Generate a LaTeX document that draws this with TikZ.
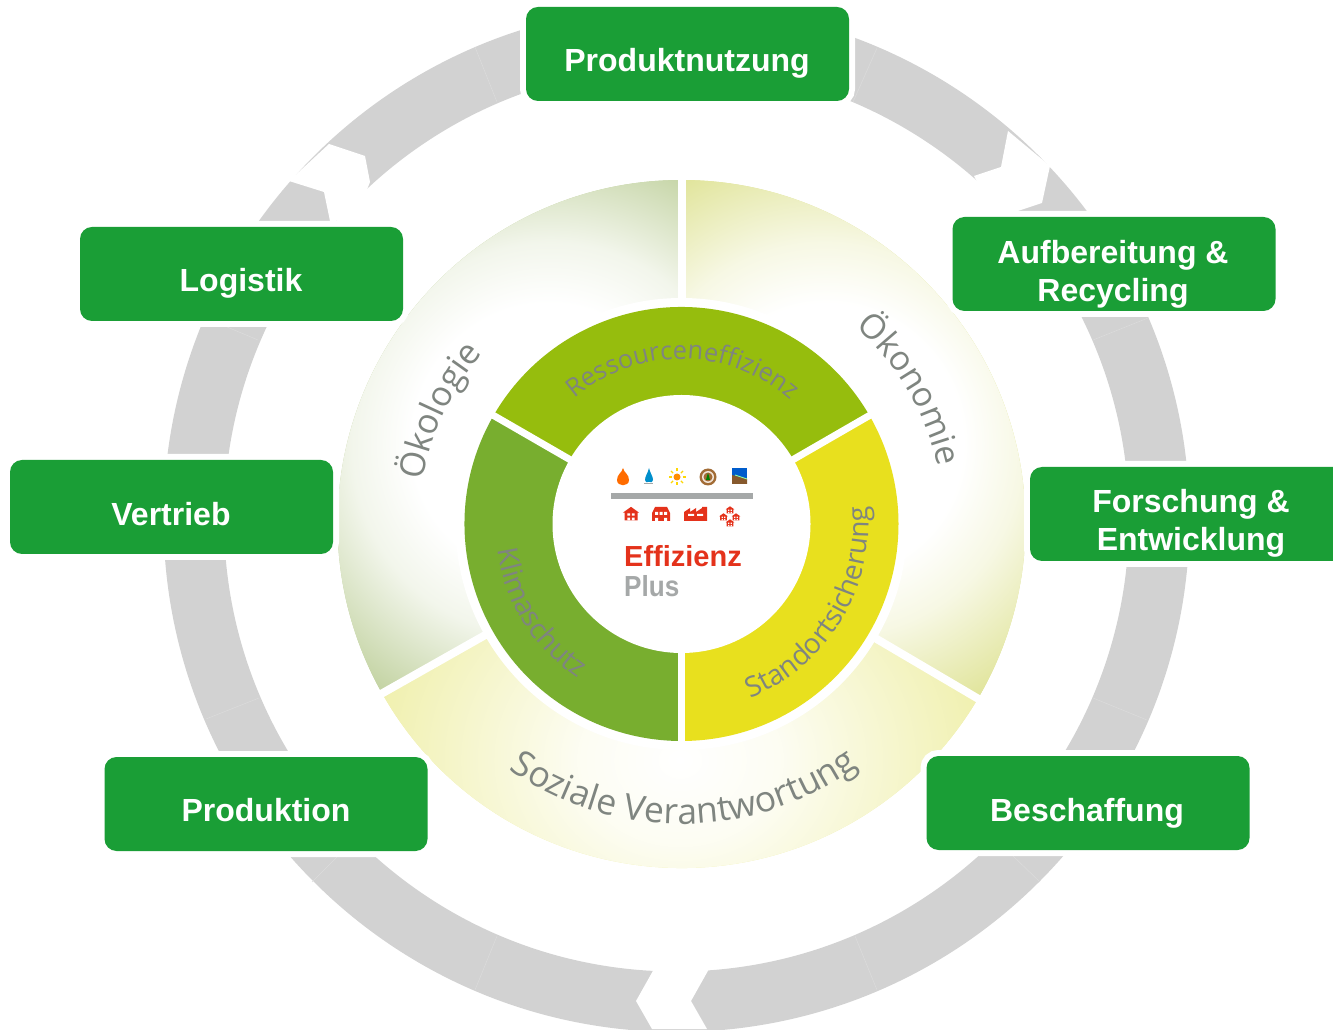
\documentclass[tikz,border=0pt]{standalone}
\usepackage{fontspec}
\setmainfont{Liberation Sans}
\newfontfamily\ringfont{Open Sans}
\usetikzlibrary{decorations.text}
\definecolor{boxgreen}{HTML}{1A9E36}
\definecolor{ringgray}{HTML}{D2D2D2}
\definecolor{seamgray}{HTML}{DCDCDC}
\definecolor{ringtext}{HTML}{7F8580}
\definecolor{okoA}{HTML}{BFD09C}
\definecolor{oekB}{HTML}{DEE292}
\definecolor{sozC}{HTML}{F0F0AE}
\definecolor{midA}{HTML}{96BD0D}
\definecolor{midB}{HTML}{78AE2F}
\definecolor{midC}{HTML}{E8E01E}
\definecolor{logored}{HTML}{E4321B}
\definecolor{logogray}{HTML}{A5A8A8}
\pgfdeclareradialshading{fadeA}{\pgfpoint{0bp}{0bp}}{color(0bp)=(white); color(11bp)=(white); color(16bp)=(white!80!okoA); color(25bp)=(okoA); color(50bp)=(okoA)}
\pgfdeclareradialshading{fadeB}{\pgfpoint{0bp}{0bp}}{color(0bp)=(white); color(11bp)=(white); color(16bp)=(white!75!oekB); color(25bp)=(oekB); color(50bp)=(oekB)}
\pgfdeclareradialshading{fadeC}{\pgfpoint{0bp}{0bp}}{color(0bp)=(white); color(8bp)=(white!85!sozC); color(25bp)=(sozC); color(50bp)=(sozC)}
\tikzset{
  greenbox/.style={rectangle, fill=boxgreen, rounded corners=12pt, minimum width=323pt, minimum height=94pt, inner sep=0pt,
    preaction={draw=white, line width=12pt}},
  boxlabel/.style={text=white, inner sep=0pt, font=\fontsize{32}{38}\selectfont\bfseries, align=center},
  ringlabel/.style={decorate},
  spoke/.style={draw=white, line width=8pt},
  seam/.style={draw=seamgray, line width=0.5pt},
  minihouse/.pic={
    \fill[logored] (-1,-1) -- (-1,0.2) -- (-1.25,0.2) -- (0,1.1) -- (1.25,0.2) -- (1,0.2) -- (1,-1) -- cycle;
    \fill[white] (-0.55,-0.25) rectangle (-0.15,0.1) (0.15,-0.25) rectangle (0.55,0.1) (-0.55,-1) rectangle (-0.15,-0.55) (0.15,-1) rectangle (0.55,-0.55);
  }
}
\begin{document}
\begin{tikzpicture}[x=1pt,y=1pt]
\clip (0,0) rectangle (1333,1029);
% outer ring
\fill[ringgray, even odd rule] (676.5,510) circle [radius=513pt] (676.5,510) circle [radius=452.5pt];
\draw[seam] (227,702) -- (258,689);
\draw[seam] (1148,711) -- (1093,689);
\draw[seam] (259,331) -- (206,310);
\draw[seam] (1093,331) -- (1147,309);
\draw[seam] (337,172) -- (312,147);
\draw[seam] (497,93) -- (475,39);
\draw[seam] (855,93) -- (877,39);
\draw[seam] (1013,173) -- (1040,147);
\draw[seam] (475,982) -- (497,927);
\draw[seam] (877,981) -- (853,927);
\fill[white] (329,885) -- (365,873) -- (370,847) -- (355,809) -- (330,808) -- (324,837) -- (289,848) -- cycle;
\fill[white] (1008,898) -- (1001,862) -- (974,853) -- (995,814) -- (1018,818) -- (1042,826) -- (1050,863) -- cycle;
\fill[white] (654,60) -- (636,28) -- (652,0) -- (707,0) -- (691,28) -- (709,60) -- (680,75) -- cycle;
% outer sectors
\begin{scope}
  \clip (681.5,505) -- +(90:344) arc (90:209.5:344) -- cycle;
  \fill[okoA] (300,100) rectangle (700,900);
  \begin{scope}[transform canvas={xshift=545pt,yshift=590pt,rotate=60}]
    \shade[shading=fadeA] (-310,-300) rectangle (310,300);
  \end{scope}
\end{scope}
\begin{scope}
  \clip (681.5,505) -- +(90:344) arc (90:-30.5:344) -- cycle;
  \fill[oekB] (670,100) rectangle (1100,900);
  \begin{scope}[transform canvas={xshift=830pt,yshift=590pt,rotate=-60}]
    \shade[shading=fadeB] (-310,-300) rectangle (310,300);
  \end{scope}
\end{scope}
\begin{scope}
  \clip (681.5,505) -- +(209.5:344) arc (209.5:329.5:344) -- cycle;
  \fill[sozC] (300,100) rectangle (1100,600);
  \shade[shading=fadeC] (370,9) rectangle (990,529);
\end{scope}
\begin{scope}[shift={(681.5,505)}]
  \fill[white] (0,0) circle [radius=226pt];
  \path[spoke] (90:215) -- (90:350);
  \path[spoke] (209.5:215) -- (209.5:350);
  \path[spoke] (-30.5:215) -- (-30.5:350);
  % inner ring
  \fill[midA] (0,0) -- (30:217) arc (30:150:217) -- cycle;
  \fill[midB] (0,0) -- (150:217) arc (150:270:217) -- cycle;
  \fill[midC] (0,0) -- (270:217) arc (270:390:217) -- cycle;
  \path[spoke, line width=7pt] (30:120) -- (30:222);
  \path[spoke, line width=7pt] (150:120) -- (150:222);
  \path[spoke, line width=7pt] (270:120) -- (270:222);
  \fill[white] (0,0) circle [radius=129pt];
  % curved texts
  \path[ringlabel, decoration={text along path, text align=center, text={|\ringfont\fontsize{34.5}{34.5}\selectfont\color{ringtext}|Ökologie}}] (192:262) arc (192:118:262);
  \path[ringlabel, decoration={text along path, text align=center, text={|\ringfont\fontsize{34}{34}\selectfont\color{ringtext}|Ökonomie}}] (68:263) arc (68:-7:263);
  \path[ringlabel, decoration={text along path, text align=center, text={|\ringfont\fontsize{35.5}{35.5}\selectfont\color{ringtext}|Soziale Verantwortung}}] (206.5:300) arc (206.5:334.5:300);
  \path[ringlabel, decoration={text along path, text align=center, text={|\ringfont\fontsize{25.5}{25.5}\selectfont\color{ringtext}|Ressourceneffizienz}}] (150:165) arc (150:29:165);
  \path[ringlabel, decoration={text along path, text align=center, text={|\ringfont\fontsize{28}{28}\selectfont\color{ringtext}|Klimaschutz}}] (163:186) arc (163:261:186);
  \path[ringlabel, decoration={text along path, text align=center, text={|\ringfont\fontsize{28}{28}\selectfont\color{ringtext}|Standortsicherung}}] (262:187) arc (262:395:187);
\end{scope}
% green boxes
\node[greenbox] (nutzung) at (687.5,975) {};
\node[greenbox] (logistik) at (241.5,755) {};
\node[greenbox] (vertrieb) at (171.5,522) {};
\node[greenbox] (produktion) at (266,225) {};
\node[greenbox] (beschaffung) at (1088,226) {};
\node[greenbox] (aufbereitung) at (1114,765) {};
\node[greenbox] (forschung) at (1191.5,515) {};
\node[boxlabel, anchor=base] (tnutzung) at (687,957) {Produktnutzung};
\node[boxlabel, anchor=base] (tlogistik) at (241,737) {Logistik};
\node[boxlabel, anchor=base] (tvertrieb) at (171,503) {Vertrieb};
\node[boxlabel, anchor=base] (tproduktion) at (266,208) {Produktion};
\node[boxlabel, anchor=base] (tbeschaffung) at (1087,208) {Beschaffung};
\node[boxlabel] (taufbereitung) at (1113,755) {Aufbereitung \&\\Recycling};
\node[boxlabel] (tforschung) at (1191,506) {Forschung \&\\Entwicklung};
% logo
\fill[logogray] (611,530) rectangle (753,536);
\fill[orange!85!red] (623,561) .. controls (624,556) and (629,555) .. (629,549) .. controls (629,542) and (617,542) .. (617,549) .. controls (617,555) and (622,556) .. (623,561) -- cycle;
\fill[blue!30!cyan!80!black] (649,561) .. controls (650,556) and (653,553) .. (653,549) .. controls (653,546) and (651,547) .. (650,547) -- (648,547) .. controls (647,547) and (645,546) .. (645,549) .. controls (645,553) and (648,556) .. (649,561) -- cycle;
\draw[logogray, line width=1pt] (644,545) -- (653,545);
\foreach \a in {0,45,...,315} {\draw[yellow!75!orange, line width=1.2pt] (677,552) ++(\a:5.5) -- ++(\a:3);}
\fill[orange!90!yellow] (677,552) circle [radius=3.5pt];
\fill[brown!85!black] (708,552) circle [radius=8.5pt];
\fill[white!80!brown] (708,552) circle [radius=6pt];
\fill[brown!85!black] (708,552) circle [radius=4.5pt];
\fill[green!50!black] (708,556) .. controls (708,553) and (710.5,551) .. (710,549) -- (706,549) .. controls (705.5,551) and (708,553) .. (708,556) -- cycle;
\fill[blue!55!cyan!80!black] (732,545) rectangle (747,561);
\fill[brown!70!black] (732,545) -- (747,545) -- (747,550) -- (732,554) -- cycle;
\draw[white!60!green, line width=0.9pt] (735,554) -- (747,550);
\path (631,515) pic[scale=6.5] {minihouse};
\fill[logored] (652,508) -- (652,516) -- (655,522) -- (667,522) -- (670,516) -- (670,508) -- cycle;
\fill[white] (655,514) rectangle (658,517) (659.5,514) rectangle (662.5,517) (664,514) rectangle (667,517) (655,508) rectangle (658,511) (664,508) rectangle (667,511);
\fill[logored] (684,508) -- (684,517) -- (690,521) -- (690,517) -- (696,521) -- (696,517) -- (702,521) -- (702,522) -- (707,522) -- (707,508) -- cycle;
\fill[white] (688,513) rectangle (694,515) (697,513) rectangle (703,515);
\path (730,519) pic[scale=3.4] {minihouse};
\path (723.5,512) pic[scale=3.4] {minihouse};
\path (736,512) pic[scale=3.4] {minihouse};
\path (730,506) pic[scale=3.4] {minihouse};
\node[anchor=base west, inner sep=0pt, text=logored, font=\fontsize{29}{29}\selectfont\bfseries] (effizienz) at (624,462) {Effizienz};
\node[anchor=base west, inner sep=0pt, text=logogray, xscale=0.9, font=\fontsize{29}{29}\selectfont\bfseries] (plus) at (624,432) {Plus};
\end{tikzpicture}
\end{document}
